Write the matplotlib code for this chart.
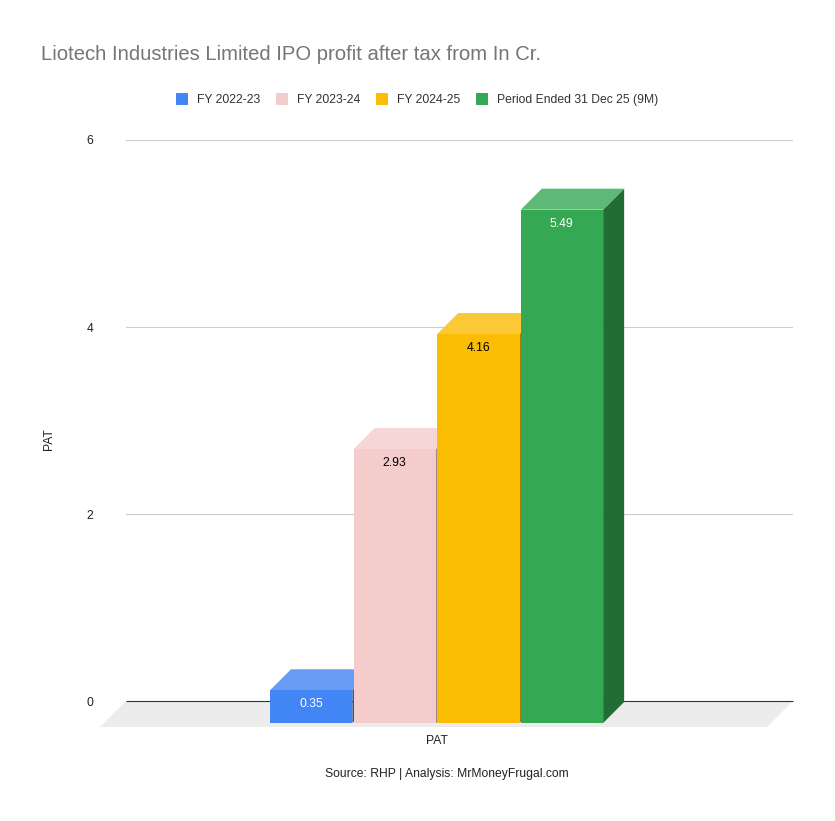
import matplotlib
matplotlib.use('Agg')
import matplotlib.pyplot as plt
from matplotlib.patches import Polygon, FancyBboxPatch
from matplotlib.colors import to_rgb

plt.rcParams['font.family'] = ['Liberation Sans', 'DejaVu Sans']

# the data
periods = ['FY 2022-23', 'FY 2023-24', 'FY 2024-25', 'Period Ended 31 Dec 25 (9M)']
pat = [0.35, 2.93, 4.16, 5.49]
colors = ['#4285f4', '#f4cccc', '#fbbc04', '#34a853']
label_colors = ['white', 'black', 'black', 'white']
y_ticks = [0, 2, 4, 6]

W, H = 835, 821
LEFT, RIGHT, TOP, ZERO = 126, 793, 140, 701   # plot area in pixels
BAR_X0, BAR_STEP = 270, 83.6                  # first bar edge, bar slot width
DEPTH = 21                                    # 3d offset in pixels
DROP = 22                                     # front baseline below the zero line


def mix(color, other, t):
    return tuple((1 - t) * a + t * b for a, b in zip(to_rgb(color), to_rgb(other)))


fig = plt.figure(figsize=(W / 100, H / 100), dpi=100, facecolor='white')
ax = fig.add_axes([LEFT / W, 1 - ZERO / H, (RIGHT - LEFT) / W, (ZERO - TOP) / H])
ax.set_xlim((LEFT - BAR_X0) / BAR_STEP, (RIGHT - BAR_X0) / BAR_STEP)
ax.set_ylim(0, 6)
for s in ax.spines.values():
    s.set_visible(False)

dx = DEPTH / BAR_STEP
py = (ZERO - TOP) / 6
dy = DEPTH / py
drop = DROP / py

# gridlines and ticks
ax.set_xticks([])
ax.set_yticks(y_ticks)
ax.tick_params(axis='y', length=0, pad=26, labelsize=8.7, labelcolor='#222222')
for lab in ax.get_yticklabels():
    lab.set_horizontalalignment('center')
for t in y_ticks[1:]:
    ax.axhline(t, color='#cccccc', lw=0.8, zorder=1)

# floor
x0, x1 = ax.get_xlim()
floor_drop = (727 - ZERO) / py
floor_dx = floor_drop * py / BAR_STEP
ax.add_patch(Polygon([(x0, 0), (x1, 0), (x1 - floor_dx, -floor_drop), (x0 - floor_dx, -floor_drop)],
                     closed=True, fc='#ececec', ec='none', clip_on=False, zorder=1))
ax.plot([x0, x1], [0, 0], color='#333333', lw=0.8, zorder=2, clip_on=False, solid_capstyle='butt')

# bars, drawn left to right so each one covers the side of the previous
for i, (v, c, lc) in enumerate(zip(pat, colors, label_colors)):
    z = 3 + i
    l, r = i, i + 0.985
    ax.add_patch(Polygon([(r, v - drop), (r + dx, v - drop + dy), (r + dx, -drop + dy), (r, -drop)],
                         closed=True, fc=mix(c, 'black', 0.35), ec='none', clip_on=False, zorder=z))
    ax.add_patch(Polygon([(l, v - drop), (l + dx, v - drop + dy), (r + dx, v - drop + dy), (r, v - drop)],
                         closed=True, fc=mix(c, 'white', 0.2), ec='none', clip_on=False, zorder=z))
    ax.bar(i, v, width=0.985, bottom=-drop, align='edge', color=c, clip_on=False, zorder=z + 0.5)
    ax.text(i + 0.49, v - drop - 14 / py, f'{v:.2f}', color=lc, fontsize=8.7,
            ha='center', va='center', zorder=z + 1)

# text
fig.text(41 / W, 1 - 54.5 / H, 'Liotech Industries Limited IPO profit after tax from In Cr.',
         fontsize=14.6, color='#757575', ha='left', va='center')
fig.text(49 / W, 1 - 439 / H, 'PAT', rotation=90, fontsize=8.7, color='#222222', ha='center', va='center')
fig.text(437 / W, 1 - 741 / H, 'PAT', fontsize=8.7, color='#222222', ha='center', va='center')
fig.text(447 / W, 1 - 773.5 / H, 'Source: RHP | Analysis: MrMoneyFrugal.com', fontsize=8.7,
         color='#222222', ha='center', va='center')

# legend
legend_x = [176, 276, 376, 476]
for x, name, c in zip(legend_x, periods, colors):
    fig.add_artist(FancyBboxPatch((x / W + 1 / W, 1 - 104 / H), 10 / W, 10 / H,
                                  boxstyle='round,pad=0.0012,rounding_size=0.001',
                                  transform=fig.transFigure, fc=c, ec='none'))
    fig.text((x + 21) / W, 1 - 103.2 / H, name, fontsize=8.7, color='#333333', ha='left', va='baseline')

fig.savefig('out.png', dpi=100)
